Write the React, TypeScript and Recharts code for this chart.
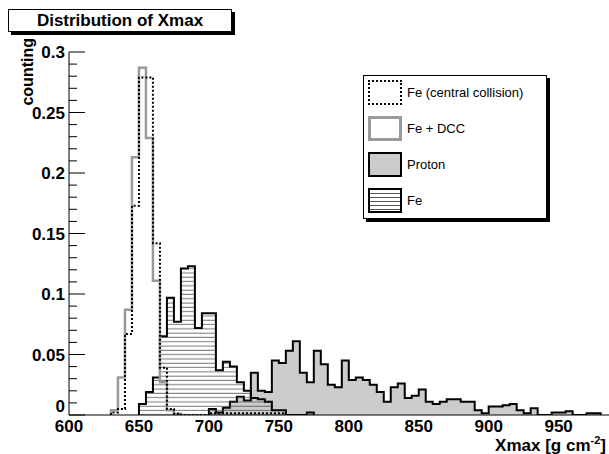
import { ComposedChart, Area, Line, XAxis, YAxis, Legend } from 'recharts'

const FONT = '"Liberation Sans", Arial, Helvetica, sans-serif'
const BIN_WIDTH = 5

// Fe (central collision), 5 g/cm2 bins from 630
const feCentralStart = 630
const feCentral = [
  0.002, 0.005, 0.067, 0.173, 0.279, 0.279, 0.142, 0.039, 0.005, 0.001,
  0, 0, 0, 0, 0.0015, 0.0015, 0.0015, 0.0015, 0.0015, 0.0015, 0.0015, 0.0015,
  0.0015, 0.0015, 0.0015,
]

// Fe + DCC, bins from 630
const feDccStart = 630
const feDcc = [0.004, 0.031, 0.087, 0.213, 0.287, 0.229, 0.111, 0.027, 0.004, 0.001]

// Proton, bins from 700
const protonStart = 700
const proton = [
  0.005, 0.002, 0.006, 0.011, 0.015, 0.012, 0.035, 0.02, 0.019, 0.045,
  0.043, 0.053, 0.061, 0.035, 0.027, 0.053, 0.042, 0.025, 0.023, 0.045,
  0.029, 0.031, 0.029, 0.025, 0.019, 0.011, 0.023, 0.026, 0.014, 0.016,
  0.021, 0.011, 0.009, 0.011, 0.013, 0.013, 0.011, 0.011, 0.004, 0.0015,
  0.007, 0.007, 0.008, 0.009, 0.004, 0.0015, 0.0055, 0, 0, 0.002,
  0.002, 0.003, 0, 0, 0.0015, 0.0015,
]

// Fe, bins from 650
const feStart = 650
const fe = [
  0.009, 0.019, 0.031, 0.065, 0.097, 0.077, 0.121, 0.123, 0.072, 0.084,
  0.084, 0.037, 0.044, 0.04, 0.027, 0.02, 0.014, 0.013, 0.011, 0.004,
  0.004, 0, 0, 0, 0.002,
]

const xTicks = [600, 650, 700, 750, 800, 850, 900, 950]
const yMajorTicks = [0, 0.05, 0.1, 0.15, 0.2, 0.25, 0.3]
const yMinorTicks = [
  0.01, 0.02, 0.03, 0.04, 0.06, 0.07, 0.08, 0.09, 0.11, 0.12, 0.13, 0.14,
  0.16, 0.17, 0.18, 0.19, 0.21, 0.22, 0.23, 0.24, 0.26, 0.27, 0.28, 0.29,
]

// histogram outline: one flat segment per bin, closed to zero at both ends
function toSteps(start: number, values: number[]) {
  const pts: { x: number; y: number }[] = [{ x: start, y: 0 }]
  values.forEach((v, i) => {
    const left = start + i * BIN_WIDTH
    pts.push({ x: left, y: v }, { x: left + BIN_WIDTH, y: v })
  })
  pts.push({ x: start + values.length * BIN_WIDTH, y: 0 })
  return pts
}

function YTick(props: any) {
  const { x, y, payload } = props
  const major = yMajorTicks.includes(payload.value)
  // the "0" sits just above the axis so it clears the 600 below it
  const dy = payload.value === 0 ? '-0.15em' : '0.36em'
  return (
    <g>
      <line x1={x} x2={x + (major ? 16 : 8)} y1={y} y2={y} stroke="#000" strokeWidth={1} />
      {major && (
        <text x={x - 4} y={y} dy={dy} textAnchor="end" fontFamily={FONT} fontWeight="bold" fontSize={17} fill="#000">
          {payload.value}
        </text>
      )}
    </g>
  )
}

// axis titles ignore the props recharts clones in and sit where ROOT put them
function XTitle() {
  return (
    <text x={606} y={451} textAnchor="end" fontFamily={FONT} fontWeight="bold" fontSize={17} fill="#000">
      Xmax [g cm
      <tspan fontSize={11} dy={-7}>-2</tspan>
      <tspan dy={7}>]</tspan>
    </text>
  )
}

function YTitle() {
  return (
    <text x={33} y={38} transform="rotate(-90 33 38)" textAnchor="end" fontFamily={FONT} fontWeight="bold" fontSize={16} fill="#000">
      counting
    </text>
  )
}

const legendRows = [
  { label: 'Fe (central collision)', style: { border: '2px dotted #000', background: '#fff' } },
  { label: 'Fe + DCC', style: { border: '3px solid #9a9a9a', background: '#fff' } },
  { label: 'Proton', style: { border: '2px solid #000', background: '#cccccc' } },
  {
    label: 'Fe',
    style: {
      border: '2px solid #000',
      background: 'repeating-linear-gradient(to bottom, #fff 0px, #fff 3px, #555 3px, #555 4px)',
    },
  },
]

function HistLegend() {
  return (
    <div
      style={{
        width: 182,
        height: 142,
        border: '1px solid #000',
        background: '#fff',
        boxShadow: '3px 3px 0 #000',
        position: 'relative',
        fontFamily: FONT,
        fontSize: 13,
      }}
    >
      {legendRows.map((r, i) => (
        <div key={r.label} style={{ position: 'absolute', left: 4, top: 4 + i * 36, height: 25, display: 'flex', alignItems: 'center' }}>
          <div style={{ width: 34, height: 25, boxSizing: 'border-box', ...r.style }} />
          <span style={{ marginLeft: 5, color: '#000' }}>{r.label}</span>
        </div>
      ))}
    </div>
  )
}

export default function App() {
  return (
    <div style={{ position: 'relative', width: 609, height: 454, background: '#fff' }}>
      <style>{'body{margin:0}'}</style>
      <div
        style={{
          position: 'absolute',
          left: 8,
          top: 9,
          width: 224,
          height: 23,
          boxSizing: 'border-box',
          border: '1px solid #000',
          boxShadow: '3px 3px 0 #000',
          background: '#fff',
          fontFamily: FONT,
          fontWeight: 'bold',
          fontSize: 17,
          textAlign: 'center',
          lineHeight: '21px',
          zIndex: 2,
        }}
      >
        Distribution of Xmax
      </div>
      <ComposedChart width={609} height={454} margin={{ top: 52, right: 0, bottom: 9, left: 9 }}>
        <defs>
          <pattern id="hatch" patternUnits="userSpaceOnUse" width={8} height={4.3}>
            <rect width={8} height={4.3} fill="none" />
            <line x1={0} x2={8} y1={2} y2={2} stroke="#444" strokeWidth={0.8} />
          </pattern>
        </defs>
        <XAxis
          type="number"
          dataKey="x"
          domain={[600, 986]}
          allowDataOverflow
          ticks={xTicks}
          tickLine={false}
          tickSize={0}
          tickMargin={5}
          height={30}
          axisLine={{ stroke: '#000' }}
          tick={{ fontFamily: FONT, fontWeight: 'bold', fontSize: 17, fill: '#000' }}
          label={<XTitle />}
        />
        <XAxis
          xAxisId="top"
          orientation="top"
          type="number"
          dataKey="x"
          domain={[600, 986]}
          height={0}
          tick={false}
          tickLine={false}
          axisLine={{ stroke: '#000' }}
        />
        <YAxis
          type="number"
          domain={[0, 0.3]}
          allowDataOverflow
          ticks={[...yMajorTicks, ...yMinorTicks]}
          interval={0}
          width={60}
          tickLine={false}
          tickSize={0}
          tickMargin={0}
          axisLine={{ stroke: '#000' }}
          tick={<YTick />}
          label={<YTitle />}
        />
        <Area
          data={toSteps(protonStart, proton)}
          dataKey="y"
          type="linear"
          fill="#cccccc"
          fillOpacity={1}
          stroke="#000"
          strokeWidth={2}
          isAnimationActive={false}
          dot={false}
          activeDot={false}
        />
        <Area
          data={toSteps(feStart, fe)}
          dataKey="y"
          type="linear"
          fill="url(#hatch)"
          fillOpacity={1}
          stroke="#000"
          strokeWidth={2}
          isAnimationActive={false}
          dot={false}
          activeDot={false}
        />
        <Line
          data={toSteps(feDccStart, feDcc)}
          dataKey="y"
          type="linear"
          stroke="#9a9a9a"
          strokeWidth={2.5}
          dot={false}
          activeDot={false}
          isAnimationActive={false}
        />
        <Line
          data={toSteps(feCentralStart, feCentral)}
          dataKey="y"
          type="linear"
          stroke="#000"
          strokeWidth={2}
          strokeDasharray="2 2"
          dot={false}
          activeDot={false}
          isAnimationActive={false}
        />
        <Legend
          layout="vertical"
          align="center"
          verticalAlign="middle"
          content={<HistLegend />}
          wrapperStyle={{ left: 363, top: 75, width: 185, height: 146 }}
        />
      </ComposedChart>
    </div>
  )
}
